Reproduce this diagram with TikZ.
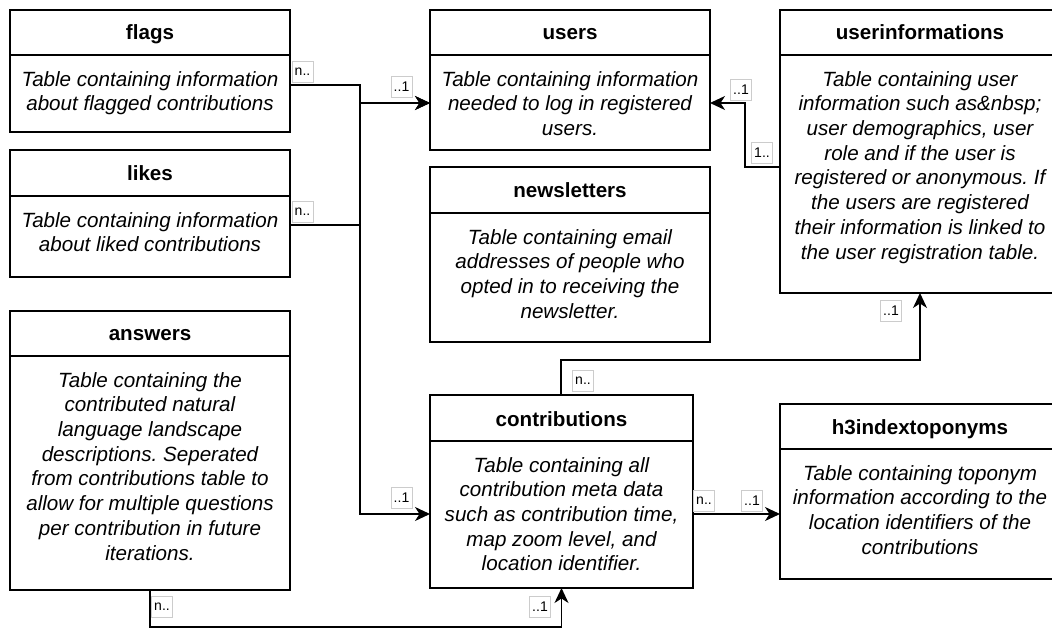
\documentclass[tikz,border=0pt]{standalone}
\usepackage{fontspec}
\setmainfont{Liberation Sans}
\usetikzlibrary{arrows.meta,calc}
\frenchspacing

% \dbtable{name}{x1}{y1}{x2}{y2}{header bottom}{title}{description}
\newcommand\dbtable[8]{%
  \node[tbl, minimum width={(#4-#2)*1pt}, minimum height={(#5-#3)*1pt}] (#1) at (#2,#3) {};
  \draw[line width=1.6pt] (#1.west |- 0,#6) -- (#1.east |- 0,#6);
  \node[ttl] (#1-title) at ({(#2+#4)/2},{#6-15}) {#7};
  \node[desc] (#1-text) at ({(#2+#4)/2},{#6+16}) {#8};
}

\begin{document}
\begin{tikzpicture}[x=1pt,y=-1pt,
  tbl/.style={draw, line width=1.6pt, rectangle, inner sep=0pt, outer sep=0pt, anchor=north west},
  ttl/.style={font=\bfseries\fontsize{20.6}{24}\selectfont, inner sep=0pt, anchor=base},
  desc/.style={font=\itshape\fontsize{20.6}{24.7}\selectfont, align=center, inner sep=0pt, anchor=north},
  rel/.style={line width=1.6pt, -{Stealth[length=15pt,width=14pt,inset=4.5pt]}},
  card/.style={draw=black!20, line width=0.8pt, fill=white,
    font=\fontsize{14}{16}\selectfont, inner sep=0pt,
    minimum width=21pt, minimum height=21pt},
]
\useasboundingbox (0,0) rectangle (1052,628);
\fill[white] (0,0) rectangle (1052,628);
\clip (0,0) rectangle (1052,628);

% tables
\dbtable{flags}{10}{10}{290}{132}{55}{flags}{Table containing information\\about flagged contributions}
\dbtable{likes}{10}{150}{290}{277}{196}{likes}{Table containing information\\about liked contributions}
\dbtable{answers}{10}{311}{290}{590}{356}{answers}{Table containing the\\contributed natural\\language landscape\\descriptions. Seperated\\from contributions table to\\allow for multiple questions\\per contribution in future\\iterations.}
\dbtable{users}{430}{10}{710}{150}{55}{users}{Table containing information\\needed to log in registered\\users.}
\dbtable{newsletters}{430}{167}{710}{342}{213}{newsletters}{Table containing email\\addresses of people who\\opted in to receiving the\\newsletter.}
\dbtable{userinfo}{780}{10}{1060}{293}{55}{userinformations}{Table containing user\\information such as\&nbsp;\\user demographics, user\\role and if the user is\\registered or anonymous. If\\the users are registered\\their information is linked to\\the user registration table.}
\dbtable{contrib}{430}{395}{693}{588}{441}{contributions}{Table containing all\\contribution meta data\\such as contribution time,\\map zoom level, and\\location identifier.}
\dbtable{h3}{780}{404}{1060}{579}{449}{h3indextoponyms}{Table containing toponym\\information according to the\\location identifiers of the\\contributions}

% relations
\coordinate (trunk) at (360,85);
\draw[rel] (flags.east |- 0,85) -- (trunk) |- (users.west |- 0,103);
\draw[rel] (likes.east |- 0,225) -- (360,225) |- (users.west |- 0,103);
\draw[rel] (likes.east |- 0,225) -- (360,225) |- (contrib.west |- 0,514);
\draw[rel] (userinfo.west |- 0,167) -| (745,103) -- (users.east |- 0,103);
\draw[rel] (contrib.north -| 561,0) -- (561,360) -| (userinfo.south);
\draw[rel] (contrib.east |- 0,514) -- (h3.west |- 0,514);
\draw[rel] (answers.south -| 150,0) -- (150,627) -| (contrib.south);

% cardinalities
\node[card] (c-flags) at (302.5,71.5) {n..};
\node[card] (c-likes) at (302.5,211.5) {n..};
\node[card] (c-users-l) at (401.5,87) {..1};
\node[card] (c-contrib-l) at (401.5,498) {..1};
\node[card] (c-users-r) at (741,90) {..1};
\node[card] (c-userinfo-l) at (762,153) {1..};
\node[card] (c-contrib-t) at (583,381) {n..};
\node[card] (c-userinfo-b) at (891,311) {..1};
\node[card] (c-contrib-r) at (704,501) {n..};
\node[card] (c-h3) at (752,501) {..1};
\node[card] (c-answers) at (162,607) {n..};
\node[card] (c-contrib-b) at (540,607) {..1};
\end{tikzpicture}
\end{document}
